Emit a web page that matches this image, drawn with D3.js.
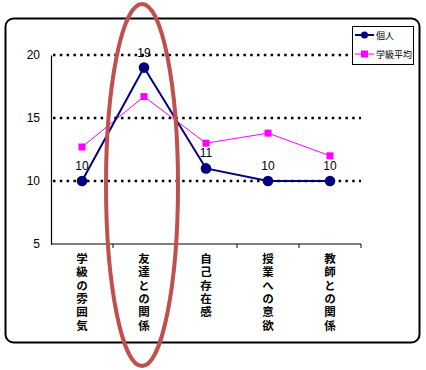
<!DOCTYPE html>
<html>
<head>
<meta charset="utf-8">
<script src="https://cdn.jsdelivr.net/npm/d3@7"></script>
<style>
  body { margin: 0; background: #fff; }
  svg { display: block; font-family: "Liberation Sans", "Noto Sans CJK JP", sans-serif; }
</style>
</head>
<body>
<script>
//chart data
var categories = ["学級の雰囲気", "友達との関係", "自己存在感", "授業への意欲", "教師との関係"];
var kojin = [10, 19, 11, 10, 10];          //個人
var gakkyuHeikin = [12.7, 16.7, 13.0, 13.8, 12.0]; //学級平均
var yTicks = [5, 10, 15, 20];
var seriesNames = ["個人", "学級平均"];

(function(){
    var width = 426, height = 370;
    var margin = {left: 51, right: 65, top: 55, bottom: 126};

    var svg = d3.select("body").append("svg")
        .attr("width", width)
        .attr("height", height);

    //outer chart frame
    svg.append("rect")
        .attr("x", 5.5).attr("y", 18.5)
        .attr("width", 414).attr("height", 324)
        .attr("rx", 8).attr("ry", 8)
        .attr("fill", "#fff")
        .attr("stroke", "#000")
        .attr("stroke-width", 2);

    var x = d3.scaleBand()
        .domain(categories)
        .range([margin.left, width - margin.right]);

    var y = d3.scaleLinear()
        .domain([5, 20])
        .range([height - margin.bottom, margin.top]);

    //dotted gridlines
    svg.selectAll(".grid")
        .data(yTicks.filter(function(d){ return d > 5; }))
        .enter()
        .append("line")
        .attr("class", "grid")
        .attr("x1", margin.left + 2)
        .attr("x2", width - margin.right)
        .attr("y1", function(d){ return y(d); })
        .attr("y2", function(d){ return y(d); })
        .attr("stroke", "#000")
        .attr("stroke-width", 2.5)
        .attr("stroke-dasharray", "2.5,4.3");

    //y axis
    var yAxis = svg.append("g")
        .attr("transform", "translate(" + margin.left + ",0)")
        .call(d3.axisLeft(y).tickValues(yTicks).tickSize(0).tickPadding(11));
    yAxis.select(".domain").attr("stroke", "#000").attr("stroke-width", 1.2);
    yAxis.selectAll("text").attr("font-size", 12).attr("fill", "#000");

    //x axis with tick marks at category boundaries
    var xAxisY = y(5);
    svg.append("line")
        .attr("x1", margin.left).attr("x2", width - margin.right)
        .attr("y1", xAxisY).attr("y2", xAxisY)
        .attr("stroke", "#000").attr("stroke-width", 1.2);
    svg.selectAll(".xtick")
        .data(categories)
        .enter()
        .append("line")
        .attr("x1", function(d){ return x(d) + x.bandwidth(); })
        .attr("x2", function(d){ return x(d) + x.bandwidth(); })
        .attr("y1", xAxisY).attr("y2", xAxisY + 4)
        .attr("stroke", "#000").attr("stroke-width", 1);

    //vertical category labels
    svg.selectAll(".xlabel")
        .data(categories)
        .enter()
        .append("text")
        .attr("x", function(d){ return x(d) + x.bandwidth() / 2; })
        .attr("y", xAxisY + 9)
        .attr("writing-mode", "vertical-rl")
        .attr("font-family", "Noto Sans CJK JP")
        .attr("font-weight", "bold")
        .attr("font-size", 11.5)
        .attr("letter-spacing", 1.8)
        .text(function(d){ return d; });

    var cx = function(d, i){ return x(categories[i]) + x.bandwidth() / 2; };

    //学級平均 series
    var lineAvg = d3.line()
        .x(function(d, i){ return cx(d, i); })
        .y(function(d){ return y(d); });
    svg.append("path")
        .datum(gakkyuHeikin)
        .attr("d", lineAvg)
        .attr("fill", "none")
        .attr("stroke", "#ff00ff")
        .attr("stroke-width", 1);
    svg.selectAll(".sq")
        .data(gakkyuHeikin)
        .enter()
        .append("rect")
        .attr("x", function(d, i){ return cx(d, i) - 3.5; })
        .attr("y", function(d){ return y(d) - 3.5; })
        .attr("width", 7).attr("height", 7)
        .attr("fill", "#ff00ff");

    //個人 series
    svg.append("path")
        .datum(kojin)
        .attr("d", lineAvg)
        .attr("fill", "none")
        .attr("stroke", "#000080")
        .attr("stroke-width", 2);
    svg.selectAll(".dot")
        .data(kojin)
        .enter()
        .append("circle")
        .attr("cx", cx)
        .attr("cy", function(d){ return y(d); })
        .attr("r", 5.3)
        .attr("fill", "#000080");
    svg.selectAll(".lbl")
        .data(kojin)
        .enter()
        .append("text")
        .attr("x", cx)
        .attr("y", function(d){ return y(d) - 11; })
        .attr("text-anchor", "middle")
        .attr("font-size", 12)
        .text(function(d){ return d; });

    //legend
    var lg = svg.append("g");
    lg.append("rect")
        .attr("x", 352.5).attr("y", 26.5)
        .attr("width", 61).attr("height", 38)
        .attr("fill", "#fff").attr("stroke", "#000").attr("stroke-width", 1);
    var colors = ["#000080", "#ff00ff"];
    seriesNames.forEach(function(name, i){
        var ly = 35 + i * 19;
        lg.append("line")
            .attr("x1", 355).attr("x2", 374)
            .attr("y1", ly).attr("y2", ly)
            .attr("stroke", colors[i]).attr("stroke-width", i === 0 ? 2 : 1);
        if (i === 0) {
            lg.append("circle").attr("cx", 364.5).attr("cy", ly).attr("r", 3.5).attr("fill", colors[i]);
        } else {
            lg.append("rect").attr("x", 361).attr("y", ly - 3.5).attr("width", 7).attr("height", 7).attr("fill", colors[i]);
        }
        lg.append("text")
            .attr("x", 376).attr("y", ly + 3.5)
            .attr("font-family", "Noto Sans CJK JP")
            .attr("font-size", 9)
            .text(name);
    });

    //red highlight ellipse around 友達との関係
    svg.append("ellipse")
        .attr("cx", x(categories[1]) + x.bandwidth() / 2 - 2)
        .attr("cy", 185)
        .attr("rx", 36)
        .attr("ry", 181)
        .attr("fill", "none")
        .attr("stroke", "#c0504d")
        .attr("stroke-width", 4);
})();
</script>
</body>
</html>
